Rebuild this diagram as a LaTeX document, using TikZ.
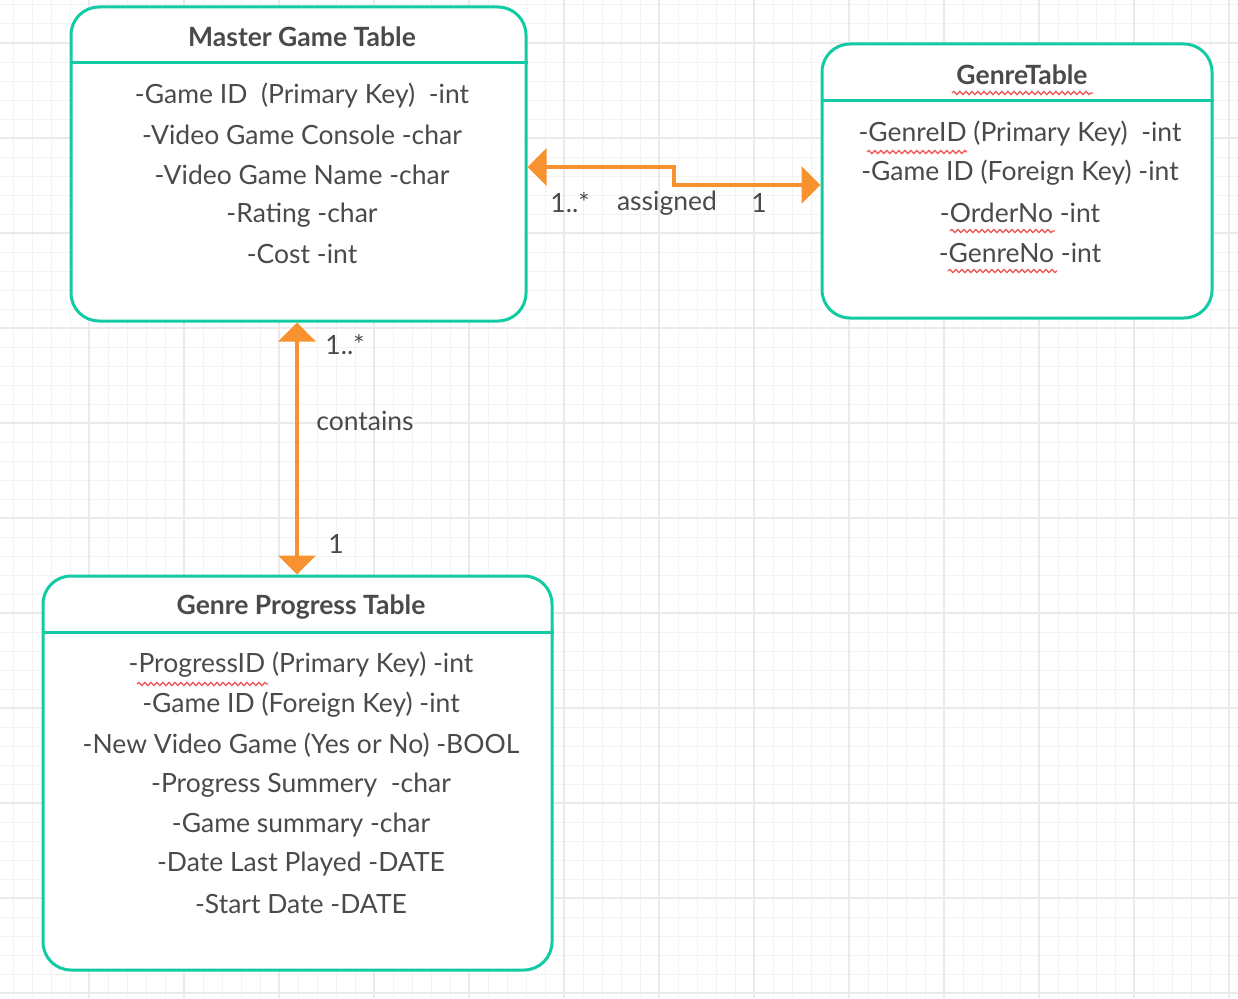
\documentclass[tikz,border=0pt]{standalone}
\usepackage{fontspec}
\setmainfont{Lato}
\usetikzlibrary{arrows.meta,decorations.pathmorphing}
\definecolor{teal1}{HTML}{12CBA4}
\definecolor{orange1}{HTML}{F7922F}
\definecolor{txt}{HTML}{4A4A4A}
\definecolor{gridminor}{HTML}{F3F3F3}
\definecolor{gridmajor}{HTML}{EAEAEA}
\definecolor{squig}{HTML}{F05A5A}
\tikzset{
  tablebox/.style={draw=teal1, line width=3pt, rounded corners=28pt, fill=white, inner sep=0pt},
  sep/.style={draw=teal1, line width=3pt},
  ttl/.style={text=txt, font=\fontsize{26.5}{30}\selectfont\bfseries, inner sep=0pt},
  fld/.style={text=txt, font=\fontsize{26.5}{30}\selectfont, inner sep=0pt},
  lbl/.style={text=txt, font=\fontsize{26.5}{30}\selectfont, inner sep=0pt},
  conn/.style={draw=orange1, line width=4pt, {Triangle[length=19pt,width=37pt]}-{Triangle[length=19pt,width=37pt]}},
  wavy/.style={draw=squig, line width=1.3pt, decorate, decoration={snake, amplitude=1.6pt, segment length=6pt}}
}
\begin{document}
\begin{tikzpicture}[x=1pt,y=-1pt]
\useasboundingbox (0,0) rectangle (1238,998);
\fill[white] (0,0) rectangle (1238,998);
% grid
\foreach \i in {0,...,65} {
  \pgfmathsetmacro{\xx}{13+19*\i}
  \draw[gridminor, line width=1pt] (\xx,0) -- (\xx,998);
}
\foreach \i in {0,...,52} {
  \pgfmathsetmacro{\yy}{5+19*\i}
  \draw[gridminor, line width=1pt] (0,\yy) -- (1238,\yy);
}
\foreach \i in {0,...,13} {
  \pgfmathsetmacro{\xx}{-6+95*\i}
  \draw[gridmajor, line width=1.2pt] (\xx,0) -- (\xx,998);
}
\foreach \i in {0,...,10} {
  \pgfmathsetmacro{\yy}{43+95*\i}
  \draw[gridmajor, line width=1.2pt] (0,\yy) -- (1238,\yy);
}

% Master Game Table
\node[tablebox, minimum width=455pt, minimum height=314pt] (master) at (298.5,164) {};
\draw[sep] (master.west |- 0,62) -- (master.east |- 0,62);
\node[ttl] (mt) at (302,37) {Master Game Table};
\node[fld] (m1) at (302,95) {-Game ID\ \ (Primary Key)\ \ -int};
\node[fld] (m2) at (302,135) {-Video Game Console -char};
\node[fld] (m3) at (302,175) {-Video Game Name -char};
\node[fld] (m4) at (302,215) {-Rating -char};
\node[fld] (m5) at (302,254) {-Cost -int};

% GenreTable
\node[tablebox, minimum width=390pt, minimum height=274pt] (genre) at (1017,181) {};
\draw[sep] (genre.west |- 0,100) -- (genre.east |- 0,100);
\node[ttl] (gt) at (1022,75) {GenreTable};
\node[fld] (g1) at (1020,133) {-GenreID (Primary Key)\ \ -int};
\node[fld] (g2) at (1020,173) {-Game ID (Foreign Key) -int};
\node[fld] (g3) at (1020,213) {-OrderNo -int};
\node[fld] (g4) at (1020,253) {-GenreNo -int};
\draw[wavy] (952,93) -- (1093,93);
\draw[wavy] (867,152) -- (967,152);
\draw[wavy] (950,231) -- (1055,231);
\draw[wavy] (948,271) -- (1057,271);

% Genre Progress Table
\node[tablebox, minimum width=509pt, minimum height=394pt] (prog) at (297.5,773) {};
\draw[sep] (prog.west |- 0,632) -- (prog.east |- 0,632);
\node[ttl] (pt) at (301,607) {Genre Progress Table};
\node[fld] (p1) at (301,665) {-ProgressID (Primary Key) -int};
\node[fld] (p2) at (301,705) {-Game ID (Foreign Key) -int};
\node[fld] (p3) at (301,745) {-New Video Game (Yes or No) -BOOL};
\node[fld] (p4) at (301,785) {-Progress Summery\ \ -char};
\node[fld] (p5) at (301,825) {-Game summary -char};
\node[fld] (p6) at (301,864) {-Date Last Played -DATE};
\node[fld] (p7) at (301,904) {-Start Date -DATE};
\draw[wavy] (137,684) -- (268,684);

% connectors
\coordinate (h1) at (674,167);
\coordinate (h2) at (674,185);
\draw[conn] (master.east |- h1) -- (h1) -- (h2) -- (genre.west |- h2);
\node[lbl] (a1) at (570,203) {1..*};
\node[lbl] (a2) at (667,203) {assigned};
\node[lbl] (a3) at (759,203) {1};

\draw[conn] (master.south -| 297,0) -- (prog.north -| 297,0);
\node[lbl] (c1) at (345,345) {1..*};
\node[lbl] (c2) at (365,421) {contains};
\node[lbl] (c3) at (336,544) {1};
\end{tikzpicture}
\end{document}
